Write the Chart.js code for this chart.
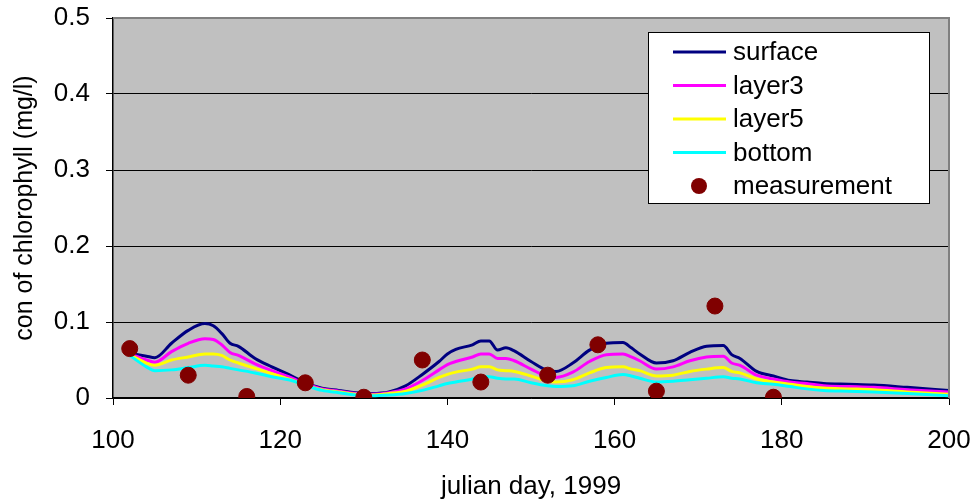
<!DOCTYPE html>
<html>
<head>
<meta charset="utf-8">
<script src="https://cdn.jsdelivr.net/npm/chart.js@4.4.0/dist/chart.umd.min.js"></script>
<style>
  html, body { margin: 0; padding: 0; background: #fff; }
  canvas { display: block; }
</style>
</head>
<body>
<canvas id="grafico" width="975" height="502"></canvas>
<script>
// model output, julian day
const days = [102,104,105,107,109,111,112,113,114,115,117,119,121,123,125,127,129,131,133,135,
  137,139,140,141,143,144,145,146,147,148,150,152,153,155,157,159,161,162,163,165,
  167,169,171,173,174,175,177,179,181,183,185,188,191,195,200];

const surface = [0.059,0.055,0.053,0.072,0.089,0.098,0.095,0.085,0.072,0.068,0.052,0.041,0.031,0.020,0.013,0.010,0.007,0.006,0.008,0.016,
  0.031,0.048,0.058,0.064,0.070,0.075,0.075,0.063,0.066,0.062,0.048,0.036,0.035,0.046,0.063,0.072,0.073,0.066,0.058,0.046,
  0.049,0.060,0.068,0.069,0.057,0.052,0.035,0.029,0.023,0.021,0.019,0.018,0.017,0.014,0.010];

const layer3 = [0.058,0.050,0.047,0.061,0.072,0.078,0.077,0.070,0.060,0.056,0.045,0.036,0.028,0.019,0.012,0.009,0.006,0.005,0.007,0.012,
  0.023,0.037,0.044,0.048,0.054,0.058,0.058,0.052,0.052,0.049,0.038,0.028,0.027,0.034,0.048,0.057,0.058,0.054,0.049,0.038,
  0.041,0.049,0.054,0.055,0.046,0.043,0.030,0.025,0.021,0.019,0.016,0.015,0.014,0.011,0.008];

const layer5 = [0.057,0.046,0.043,0.050,0.054,0.058,0.058,0.056,0.050,0.046,0.039,0.032,0.025,0.017,0.011,0.008,0.005,0.004,0.006,0.009,
  0.017,0.027,0.031,0.034,0.038,0.041,0.041,0.037,0.036,0.035,0.029,0.022,0.021,0.024,0.033,0.040,0.041,0.038,0.036,0.029,
  0.030,0.035,0.038,0.040,0.035,0.033,0.025,0.021,0.018,0.015,0.013,0.012,0.011,0.008,0.005];

const bottom = [0.056,0.041,0.036,0.037,0.040,0.043,0.042,0.041,0.039,0.037,0.033,0.028,0.024,0.017,0.010,0.007,0.004,0.003,0.004,0.006,
  0.010,0.016,0.019,0.021,0.025,0.028,0.028,0.026,0.025,0.025,0.020,0.016,0.015,0.016,0.022,0.027,0.031,0.029,0.026,0.021,
  0.022,0.024,0.026,0.028,0.026,0.025,0.020,0.018,0.015,0.012,0.010,0.009,0.008,0.006,0.003];

// field samples
const diasMedicao = [102,109,116,123,130,137,144,152,158,165,172,179];
const medicao = [0.065,0.030,0.002,0.020,0.001,0.050,0.021,0.030,0.070,0.009,0.121,0.001];

const xTicks = [100,120,140,160,180,200];
const yTicks = [0,0.1,0.2,0.3,0.4,0.5];

const FONTE = 'Liberation Sans, Arial, sans-serif';

function pontos(xs, ys) {
    return xs.map((x, i) => ({ x: x, y: ys[i] }));
}

function serie(label, valores, cor, ordem) {
    return {
        label: label,
        data: pontos(days, valores),
        borderColor: cor,
        backgroundColor: cor,
        borderWidth: 3,
        pointRadius: 0,
        cubicInterpolationMode: 'monotone',
        fill: false,
        order: ordem
    };
}

// grey plot area + top/right frame
const fundoPlot = {
    id: 'fundoPlot',
    beforeDraw(chart) {
        const a = chart.chartArea, c = chart.ctx;
        c.save();
        c.fillStyle = '#c0c0c0';
        c.fillRect(a.left, a.top, a.right - a.left, a.bottom - a.top);
        c.restore();
    },
    afterDraw(chart) {
        const a = chart.chartArea, c = chart.ctx;
        c.save();
        c.strokeStyle = '#808080';
        c.lineWidth = 2;
        c.beginPath();
        c.moveTo(a.left, a.top);
        c.lineTo(a.right, a.top);
        c.lineTo(a.right, a.bottom);
        c.stroke();
        c.restore();
    }
};

// legend box like the excel one
const legendaBox = {
    id: 'legendaBox',
    afterDraw(chart) {
        const c = chart.ctx;
        const x0 = 648, y0 = 32, w = 281, h = 171;
        c.save();
        c.fillStyle = '#ffffff';
        c.fillRect(x0, y0, w, h);
        c.strokeStyle = '#000000';
        c.lineWidth = 1;
        c.strokeRect(x0 + 0.5, y0 + 0.5, w, h);
        c.font = '26px ' + FONTE;
        c.textBaseline = 'middle';
        c.fillStyle = '#000';
        chart.data.datasets.forEach((ds, i) => {
            const y = y0 + 20 + i * 33.5;
            if (ds.showLine === false) {
                c.beginPath();
                c.arc(699, y, 8, 0, Math.PI * 2);
                c.fillStyle = ds.backgroundColor;
                c.fill();
            } else {
                c.beginPath();
                c.moveTo(673, y);
                c.lineTo(726, y);
                c.strokeStyle = ds.borderColor;
                c.lineWidth = 3;
                c.stroke();
            }
            c.fillStyle = '#000';
            c.fillText(ds.label, 733, y + 1);
        });
        c.restore();
    }
};

const ctx = document.getElementById('grafico').getContext('2d');
const grafico = new Chart(ctx, {
    type: 'line',
    data: {
        datasets: [
            serie('surface', surface, '#000080', 4),
            serie('layer3', layer3, '#ff00ff', 3),
            serie('layer5', layer5, '#ffff00', 2),
            serie('bottom', bottom, '#00ffff', 1),
            {
                label: 'measurement',
                data: pontos(diasMedicao, medicao),
                showLine: false,
                pointRadius: 8,
                pointHoverRadius: 8,
                pointBackgroundColor: '#800000',
                pointBorderColor: '#800000',
                backgroundColor: '#800000',
                borderColor: '#800000',
                order: 0
            }
        ]
    },
    options: {
        responsive: false,
        animation: false,
        events: [],
        layout: { padding: { left: 0, top: 18, right: 26, bottom: 0 } },
        plugins: {
            legend: { display: false },
            tooltip: { enabled: false }
        },
        scales: {
            x: {
                type: 'linear',
                min: 100,
                max: 200,
                afterBuildTicks: s => { s.ticks = xTicks.map(v => ({ value: v })); },
                afterFit: s => { s.height = 104; s.paddingLeft = 0; s.paddingRight = 0; },
                grid: { drawOnChartArea: false, drawTicks: true, tickLength: 7, color: '#000' },
                border: { display: true, color: '#000', width: 1.5 },
                ticks: { color: '#000', font: { family: FONTE, size: 26 }, padding: 20, maxRotation: 0 },
                title: { display: true, text: 'julian day, 1999', color: '#000', font: { family: FONTE, size: 26 }, padding: { top: 8, bottom: 0 } }
            },
            y: {
                min: 0,
                max: 0.5,
                afterBuildTicks: s => { s.ticks = yTicks.map(v => ({ value: v })); },
                afterFit: s => { s.width = 113; s.paddingTop = 0; s.paddingBottom = 0; },
                grid: { drawOnChartArea: true, drawTicks: true, tickLength: 7, color: '#000', lineWidth: 1 },
                border: { display: true, color: '#000', width: 1.5 },
                ticks: { color: '#000', font: { family: FONTE, size: 26 }, padding: 16, callback: v => String(Math.round(v * 10) / 10) },
                title: { display: true, text: 'con of chlorophyll (mg/l)', color: '#000', font: { family: FONTE, size: 25 }, padding: { top: 10, bottom: 4 } }
            }
        }
    },
    plugins: [fundoPlot, legendaBox]
});
</script>
</body>
</html>
